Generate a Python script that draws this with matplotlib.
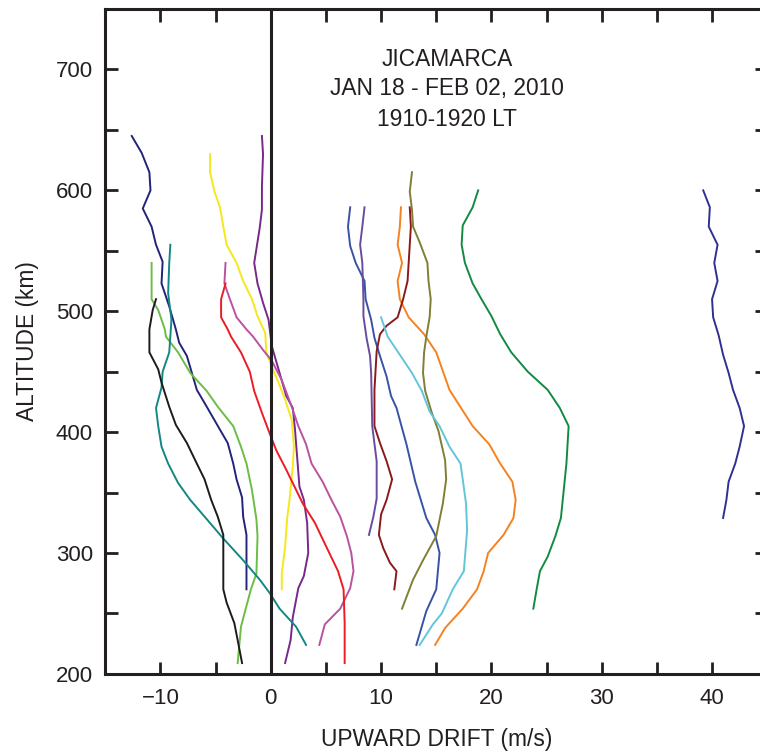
import numpy as np
import matplotlib
matplotlib.use("Agg")
import matplotlib.pyplot as plt
from matplotlib.ticker import MultipleLocator

plt.rcParams['font.family'] = ['Liberation Sans', 'DejaVu Sans']

# drift profiles (m/s) vs altitude (km), one per colour
navy_v = [-12.6, -11.7, -11.0, -10.9, -11.6, -10.8, -10.4, -9.8, -9.9, -9.2, -8.6, -8.3, -7.6,
          -6.7, -5.8, -4.6, -3.9, -3.4, -3.1, -2.6, -2.5, -2.2, -2.2]
navy_h = [645, 631, 615, 600, 585, 570, 555, 541, 523, 504, 485, 474, 463,
          435, 421, 402, 391, 374, 361, 346, 330, 315, 270]

yellow_v = [-5.5, -5.5, -5.1, -4.6, -4.3, -4.0, -3.1, -2.5, -1.7, -1.2, -0.5, -0.4, 0.1,
            0.7, 1.3, 1.9, 2.1, 2.0, 1.7, 1.5, 1.3, 1.0, 1.0]
yellow_h = [630, 615, 599, 586, 570, 555, 540, 525, 510, 496, 482, 466, 454,
            441, 427, 410, 388, 372, 344, 330, 305, 283, 270]

purple_v = [-0.8, -0.7, -0.8, -0.8, -1.0, -1.5, -1.2, -0.7, -0.2, 0.1, 0.8, 1.4, 2.0,
            2.2, 2.6, 3.0, 3.3, 3.4, 3.0, 2.5, 2.0, 1.8, 1.3]
purple_h = [645, 630, 603, 584, 569, 540, 523, 507, 493, 471, 449, 430, 420,
            402, 355, 344, 325, 300, 281, 271, 247, 228, 209]

lime_v = [-10.8, -10.8, -10.2, -9.6, -9.5, -8.4, -7.3, -5.8, -4.8, -3.4, -2.7, -2.2, -1.7,
          -1.3, -1.2, -1.3, -1.8, -2.7, -3.0]
lime_h = [540, 510, 501, 485, 479, 466, 449, 434, 421, 405, 388, 374, 352,
          328, 314, 283, 270, 239, 209]

teal_v = [-9.1, -9.2, -9.3, -9.0, -9.2, -9.8, -9.9, -10.4, -10.2, -9.9, -9.3, -8.4, -7.3,
          -5.8, -4.3, -2.5, -1.0, -0.1, 0.8, 2.3, 3.2]
teal_h = [555, 540, 515, 493, 466, 450, 437, 420, 405, 388, 374, 358, 344,
          328, 312, 294, 278, 267, 254, 239, 224]

black_v = [-10.4, -10.7, -11.0, -11.0, -11.0, -10.2, -9.9, -9.2, -8.6, -7.6, -6.7, -6.0, -5.4,
           -4.8, -4.3, -4.3, -4.0, -3.3, -3.0, -2.6]
black_h = [510, 501, 485, 479, 466, 452, 441, 421, 406, 391, 374, 361, 344,
           330, 315, 270, 259, 242, 228, 209]

orchid_v = [-4.1, -4.2, -3.7, -3.1, -2.2, -1.6, -0.7, 0.1, 1.0, 1.9, 2.5, 3.2, 3.7,
            4.7, 5.5, 6.3, 6.9, 7.3, 7.5, 7.2, 6.3, 4.9, 4.4]
orchid_h = [540, 523, 510, 495, 485, 479, 468, 459, 443, 421, 405, 390, 374,
            359, 344, 330, 314, 300, 285, 271, 254, 241, 224]

red_v = [-4.1, -4.5, -4.5, -3.9, -3.6, -2.7, -1.9, -1.5, -0.8, -0.1, 0.5, 1.4, 2.9,
         4.0, 5.1, 6.1, 6.6, 6.7, 6.7]
red_h = [523, 510, 495, 485, 479, 466, 450, 434, 416, 399, 385, 369, 341,
         325, 304, 285, 270, 242, 209]

blue_v = [7.2, 7.0, 7.2, 7.7, 8.5, 8.6, 9.1, 9.4, 9.9, 10.5, 10.9, 11.4, 12.3,
          13.1, 14.1, 14.9, 15.3, 15.0, 14.1, 13.2]
blue_h = [586, 570, 554, 540, 525, 510, 493, 478, 463, 446, 430, 420, 390,
          359, 329, 315, 300, 270, 252, 224]

violet_v = [8.5, 8.3, 8.1, 8.3, 8.4, 8.4, 8.7, 9.0, 9.1, 9.2, 9.6, 9.6, 9.3, 8.9]
violet_h = [586, 570, 555, 540, 510, 496, 477, 463, 449, 405, 376, 345, 330, 315]

orange_v = [11.8, 11.7, 11.5, 11.9, 11.5, 11.7, 12.5, 13.9, 15.0, 16.2, 18.3, 19.8, 20.8,
            21.9, 22.2, 22.0, 21.1, 19.7, 19.3, 18.7, 17.4, 15.8, 14.9]
orange_h = [586, 570, 555, 540, 525, 510, 495, 481, 466, 435, 405, 390, 374,
            359, 344, 329, 315, 300, 285, 270, 254, 238, 224]

maroon_v = [12.6, 12.7, 12.6, 12.5, 12.4, 12.0, 11.5, 10.5, 9.9, 9.6, 9.4, 9.4, 9.9,
            10.5, 11.0, 10.5, 10.0, 9.8, 10.2, 10.8, 11.4, 11.2]
maroon_h = [586, 570, 555, 540, 525, 510, 495, 488, 481, 467, 435, 405, 391,
            376, 361, 344, 332, 315, 304, 292, 285, 270]

olive_v = [12.8, 12.6, 12.8, 12.9, 13.5, 14.2, 14.3, 14.5, 14.4, 14.1, 13.9, 13.8, 14.0,
           14.6, 15.2, 15.8, 15.9, 15.6, 15.0, 13.8, 12.9, 11.9]
olive_h = [615, 599, 584, 570, 557, 540, 525, 510, 495, 479, 466, 449, 434,
           416, 401, 377, 361, 341, 314, 294, 278, 254]

cyan_v = [10.0, 10.6, 11.7, 12.8, 13.7, 14.4, 15.3, 16.2, 17.2, 17.4, 17.7, 17.8, 17.5,
          16.5, 15.5, 14.7, 13.5]
cyan_h = [495, 479, 464, 449, 434, 417, 405, 388, 374, 361, 341, 319, 285,
          270, 250, 241, 224]

green_v = [18.8, 18.3, 17.4, 17.3, 17.6, 18.3, 19.1, 20.0, 20.8, 21.8, 23.3, 25.1, 26.2,
           27.0, 26.8, 26.3, 25.8, 25.1, 24.4, 24.1, 23.8]
green_h = [600, 586, 571, 555, 540, 523, 510, 496, 481, 466, 450, 435, 420,
           405, 374, 329, 314, 297, 285, 270, 254]

indigo_v = [39.2, 39.8, 39.7, 40.5, 40.2, 40.5, 40.0, 40.1, 40.6, 41.0, 41.5, 41.9, 42.5,
            42.9, 42.5, 42.1, 41.5, 41.3, 41.0]
indigo_h = [600, 586, 570, 555, 540, 525, 510, 495, 480, 464, 449, 435, 420,
            405, 388, 374, 359, 344, 329]

profiles = [
    (navy_v, navy_h, '#22237a'),
    (yellow_v, yellow_h, '#f4e81c'),
    (purple_v, purple_h, '#77288a'),
    (lime_v, lime_h, '#6cbd45'),
    (teal_v, teal_h, '#138784'),
    (black_v, black_h, '#1c1c1c'),
    (orchid_v, orchid_h, '#b9539f'),
    (red_v, red_h, '#ed1c24'),
    (blue_v, blue_h, '#3953a4'),
    (violet_v, violet_h, '#6a4c9f'),
    (orange_v, orange_h, '#f58220'),
    (maroon_v, maroon_h, '#8a1a1c'),
    (olive_v, olive_h, '#7f7f35'),
    (cyan_v, cyan_h, '#62c6d8'),
    (green_v, green_h, '#138a43'),
    (indigo_v, indigo_h, '#2e3192'),
]

ink = '#231f20'

fig = plt.figure(figsize=(7.6, 7.53), dpi=100)
ax = fig.add_axes([0.1385, 0.105, 0.871, 0.883])

for v, h, c in profiles:
    ax.plot(v, h, color=c, lw=1.4)

ax.axvline(0, color=ink, lw=2.2)

ax.set_xlim(-15, 45)
ax.set_ylim(200, 750)
ax.xaxis.set_major_locator(MultipleLocator(10))
ax.xaxis.set_minor_locator(MultipleLocator(5))
ax.yaxis.set_major_locator(MultipleLocator(100))
ax.yaxis.set_minor_locator(MultipleLocator(50))
ax.tick_params(which='both', direction='in', length=9, width=2, color=ink,
               top=True, right=True, labelsize=16, labelcolor=ink)
ax.tick_params(axis='x', pad=10)
ax.tick_params(axis='y', pad=9)
for s in ax.spines.values():
    s.set_linewidth(2.2)
    s.set_color(ink)

ax.set_xlabel('UPWARD DRIFT (m/s)', fontsize=16.4, color=ink, labelpad=14)
ax.set_ylabel('ALTITUDE (km)', fontsize=16.4, color=ink, labelpad=12)

ax.text(16, 708, 'JICAMARCA', ha='center', va='center', fontsize=16.4, color=ink)
ax.text(16, 684, 'JAN 18 - FEB 02, 2010', ha='center', va='center', fontsize=16.4, color=ink)
ax.text(16, 659, '1910-1920 LT', ha='center', va='center', fontsize=16.4, color=ink)

fig.savefig('out.png', dpi=100)
